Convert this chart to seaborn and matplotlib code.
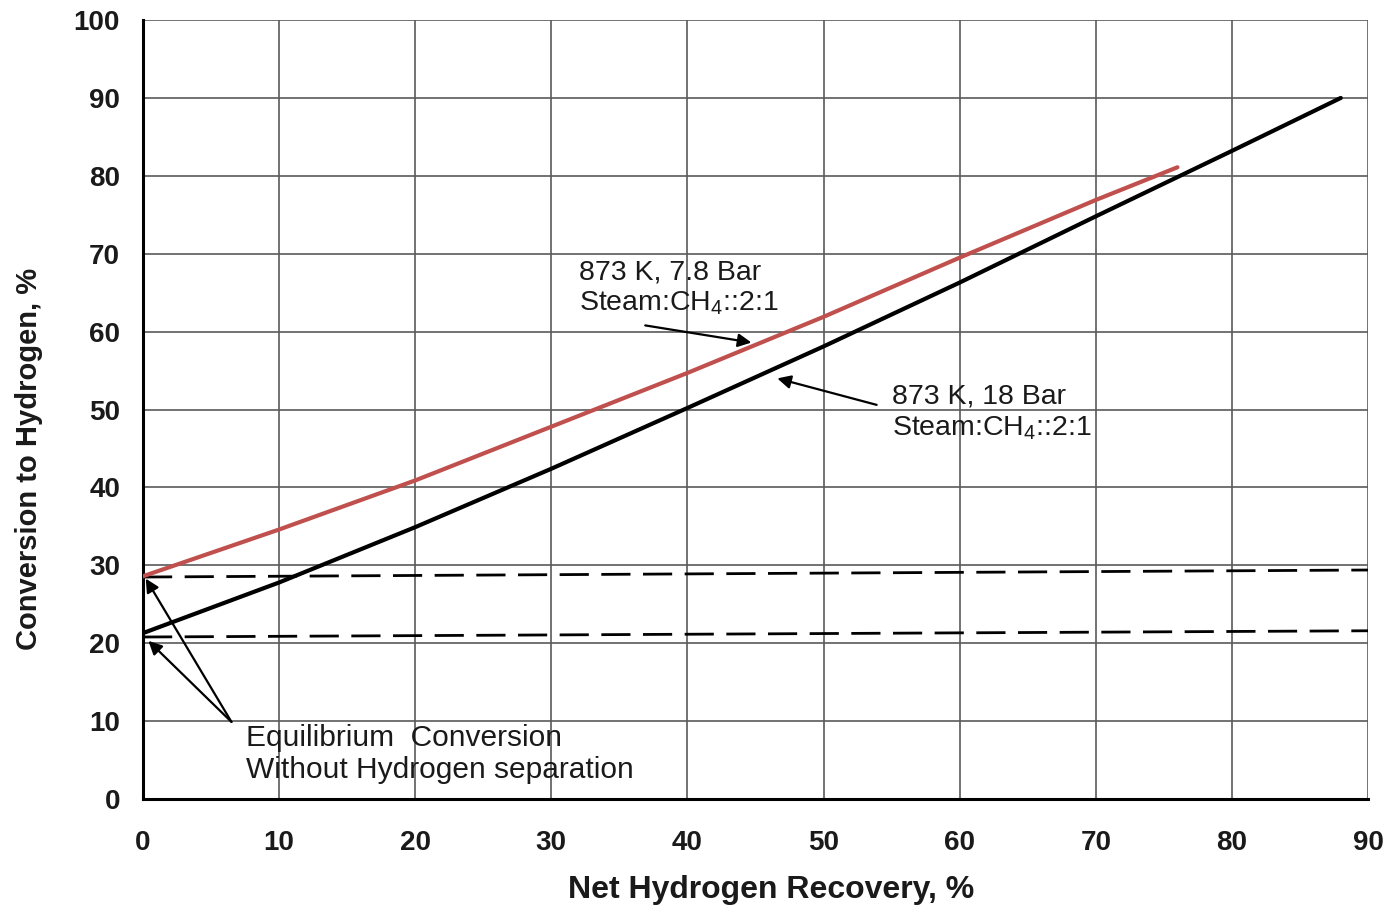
import matplotlib
matplotlib.use("Agg")
import matplotlib.pyplot as plt
import seaborn as sns
import pandas as pd

# ---- data ----
recovery_low_p = [0, 10, 20, 30, 40, 50, 60, 70, 76]
conversion_low_p = [28.6, 34.6, 40.9, 47.8, 54.7, 61.9, 69.5, 76.9, 81.1]

recovery_high_p = [0, 10, 20, 30, 40, 50, 60, 70, 80, 88]
conversion_high_p = [21.3, 27.8, 34.9, 42.4, 50.2, 58.1, 66.3, 74.8, 83.2, 90.0]

equil_x = [0, 90]
equil_low_p = [28.5, 29.4]
equil_high_p = [20.8, 21.6]

x_ticks = [0, 10, 20, 30, 40, 50, 60, 70, 80, 90]
y_ticks = [0, 10, 20, 30, 40, 50, 60, 70, 80, 90, 100]

label_low_p = "873 K, 7.8 Bar\nSteam:CH$\\mathregular{_4}$::2:1"
label_high_p = "873 K, 18 Bar\nSteam:CH$\\mathregular{_4}$::2:1"
label_equil = "Equilibrium  Conversion\nWithout Hydrogen separation"

sns.set_theme(style="white")
plt.rcParams["font.family"] = ["Liberation Sans", "DejaVu Sans"]
plt.rcParams["mathtext.fontset"] = "custom"
plt.rcParams["mathtext.rm"] = "Liberation Sans"

fig = plt.figure(figsize=(13.87, 9.11), dpi=100)
ax = fig.add_axes([0.1031, 0.1229, 0.8832, 0.8551])

red = "#C0504D"
df_low = pd.DataFrame({"x": recovery_low_p, "y": conversion_low_p})
df_high = pd.DataFrame({"x": recovery_high_p, "y": conversion_high_p})
sns.lineplot(data=df_low, x="x", y="y", ax=ax, color=red, lw=3.0, zorder=4)
sns.lineplot(data=df_high, x="x", y="y", ax=ax, color="black", lw=3.0, zorder=4)

df_eq1 = pd.DataFrame({"x": equil_x, "y": equil_low_p})
df_eq2 = pd.DataFrame({"x": equil_x, "y": equil_high_p})
for d in (df_eq1, df_eq2):
    sns.lineplot(data=d, x="x", y="y", ax=ax, color="black", lw=2.0,
                 linestyle=(0, (10.5, 4.5)), zorder=3)

ax.set_xlim(0, 90)
ax.set_ylim(0, 100)
ax.set_xticks(x_ticks)
ax.set_yticks(y_ticks)
ax.grid(True, color="#5a5a5a", lw=1.2)
ax.set_axisbelow(True)
for s in ("top", "right"):
    ax.spines[s].set_visible(False)
for s in ("left", "bottom"):
    ax.spines[s].set_color("black")
    ax.spines[s].set_linewidth(2.2)

ax.tick_params(axis="both", which="major", direction="out", length=6.5, width=1.5,
               color="black", labelcolor="#1a1a1a")
ax.tick_params(axis="y", pad=10, labelsize=20)
ax.tick_params(axis="x", pad=16, labelsize=20)
for lab in ax.get_xticklabels() + ax.get_yticklabels():
    lab.set_fontweight("bold")

ax.set_xlabel("Net Hydrogen Recovery, %", fontsize=23, fontweight="bold", color="#1a1a1a")
ax.set_ylabel("Conversion to Hydrogen, %", fontsize=21, fontweight="bold", color="#1a1a1a")
ax.xaxis.set_label_coords(0.513, -0.097)
ax.yaxis.set_label_coords(-0.082, 0.436)

tkw = dict(color="#1a1a1a", ha="left", va="center", linespacing=1.2)
ax.text(32.0, 65.6, label_low_p, fontsize=20.5, **tkw)
ax.text(55.0, 49.6, label_high_p, fontsize=20.5, **tkw)
ax.text(7.6, 5.8, label_equil, fontsize=21.5, **tkw)

akw = dict(arrowstyle="-|>", color="black", lw=1.6, mutation_scale=20,
           shrinkA=0, shrinkB=0)
ax.annotate("", xy=(44.7, 58.6), xytext=(36.9, 60.8), arrowprops=akw)
ax.annotate("", xy=(46.6, 54.0), xytext=(53.9, 50.6), arrowprops=akw)
ax.annotate("", xy=(0.2, 28.3), xytext=(6.5, 9.9), arrowprops=akw)
ax.annotate("", xy=(0.4, 20.3), xytext=(6.5, 9.9), arrowprops=akw)

fig.savefig("out.png", dpi=100)
